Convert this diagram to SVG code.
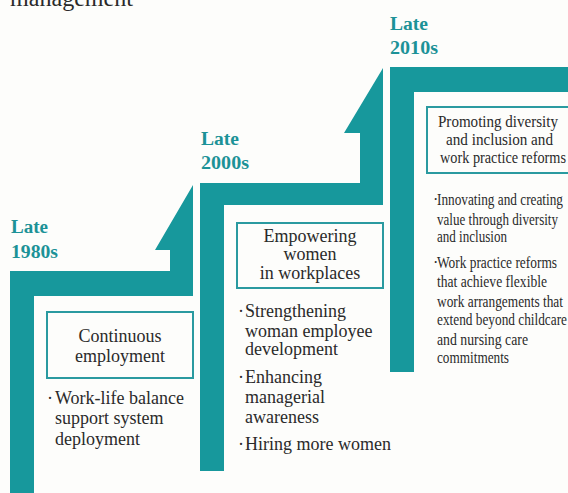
<svg xmlns="http://www.w3.org/2000/svg" width="568" height="493" viewBox="0 0 568 493" font-family="'Liberation Serif', 'Times New Roman', serif">
<style>
  text { font-family: 'Liberation Serif', 'Times New Roman', serif; fill: #2a2a2a; }
  .step { fill: #17989c; }
  .era { font-weight: bold; font-size: 18.5px; fill: #1c9297; }
  .box { fill: none; stroke: #2a9aa0; stroke-width: 2; }
  .body { font-size: 18px; }
  .mid { text-anchor: middle; }
  .small { font-size: 16px; }
  .title3 { font-size: 17px; text-anchor: middle; }
</style>
<rect x="0" y="0" width="568" height="493" fill="#fdfdfb"/>
<text x="10" y="6" font-size="24" textLength="123" lengthAdjust="spacingAndGlyphs">management</text>

<g id="steps">
  <path class="step" d="M10,493 V271 H170 V250 H155 L193,185 V296 H34 V493 Z"/>
  <path class="step" d="M200,471 V183 H360 V133 H344 L383,68 V205 H224 V471 Z"/>
  <path class="step" d="M390,372 V67 H568 V92 H414 V372 Z"/>
</g>

<g id="era-1980s">
  <text class="era" x="11" y="233" textLength="37" lengthAdjust="spacingAndGlyphs">Late</text>
  <text class="era" x="11" y="258" textLength="47" lengthAdjust="spacingAndGlyphs">1980s</text>
</g>
<g id="era-2000s">
  <text class="era" x="201" y="145" textLength="38" lengthAdjust="spacingAndGlyphs">Late</text>
  <text class="era" x="201" y="169" textLength="48" lengthAdjust="spacingAndGlyphs">2000s</text>
</g>
<g id="era-2010s">
  <text class="era" x="390" y="30" textLength="38" lengthAdjust="spacingAndGlyphs">Late</text>
  <text class="era" x="390" y="54" textLength="48" lengthAdjust="spacingAndGlyphs">2010s</text>
</g>

<g id="node-continuous-employment">
  <rect class="box" x="47" y="312" width="146" height="66"/>
  <text class="body mid" x="120" y="342">Continuous</text>
  <text class="body mid" x="120" y="362">employment</text>
</g>
<g id="bullets-1980s">
  <text class="body" y="404"><tspan x="47">·</tspan><tspan x="55">Work-life balance</tspan></text>
  <text class="body" x="55" y="424">support system</text>
  <text class="body" x="55" y="445">deployment</text>
</g>

<g id="node-empowering-women">
  <rect class="box" x="237" y="223" width="146" height="65"/>
  <text class="body mid" x="310" y="242">Empowering</text>
  <text class="body mid" x="310" y="260">women</text>
  <text class="body mid" x="310" y="279">in workplaces</text>
</g>
<g id="bullets-2000s">
  <text class="body" y="317"><tspan x="238">·</tspan><tspan x="245">Strengthening</tspan></text>
  <text class="body" x="245" y="337">woman employee</text>
  <text class="body" x="245" y="355">development</text>
  <text class="body" y="383"><tspan x="238">·</tspan><tspan x="245">Enhancing</tspan></text>
  <text class="body" x="245" y="403">managerial</text>
  <text class="body" x="245" y="423">awareness</text>
  <text class="body" y="450"><tspan x="238">·</tspan><tspan x="245">Hiring more women</tspan></text>
</g>

<g id="node-diversity-inclusion">
  <rect class="box" x="427" y="107" width="145" height="66"/>
  <text class="title3" x="498" y="127" textLength="120" lengthAdjust="spacingAndGlyphs">Promoting diversity</text>
  <text class="title3" x="499.5" y="145" textLength="107" lengthAdjust="spacingAndGlyphs">and inclusion and</text>
  <text class="title3" x="503" y="163" textLength="126" lengthAdjust="spacingAndGlyphs">work practice reforms</text>
</g>
<g id="bullets-2010s">
  <text class="small" x="433" y="205">·</text>
  <text class="small" x="437" y="205" textLength="126" lengthAdjust="spacingAndGlyphs">Innovating and creating</text>
  <text class="small" x="437" y="225" textLength="121" lengthAdjust="spacingAndGlyphs">value through diversity</text>
  <text class="small" x="437" y="242" textLength="70" lengthAdjust="spacingAndGlyphs">and inclusion</text>
  <text class="small" x="433" y="268">·</text>
  <text class="small" x="437" y="268" textLength="120" lengthAdjust="spacingAndGlyphs">Work practice reforms</text>
  <text class="small" x="437" y="287" textLength="110" lengthAdjust="spacingAndGlyphs">that achieve flexible</text>
  <text class="small" x="437" y="307" textLength="126" lengthAdjust="spacingAndGlyphs">work arrangements that</text>
  <text class="small" x="437" y="325" textLength="130" lengthAdjust="spacingAndGlyphs">extend beyond childcare</text>
  <text class="small" x="437" y="345" textLength="91" lengthAdjust="spacingAndGlyphs">and nursing care</text>
  <text class="small" x="437" y="363" textLength="72" lengthAdjust="spacingAndGlyphs">commitments</text>
</g>
</svg>
